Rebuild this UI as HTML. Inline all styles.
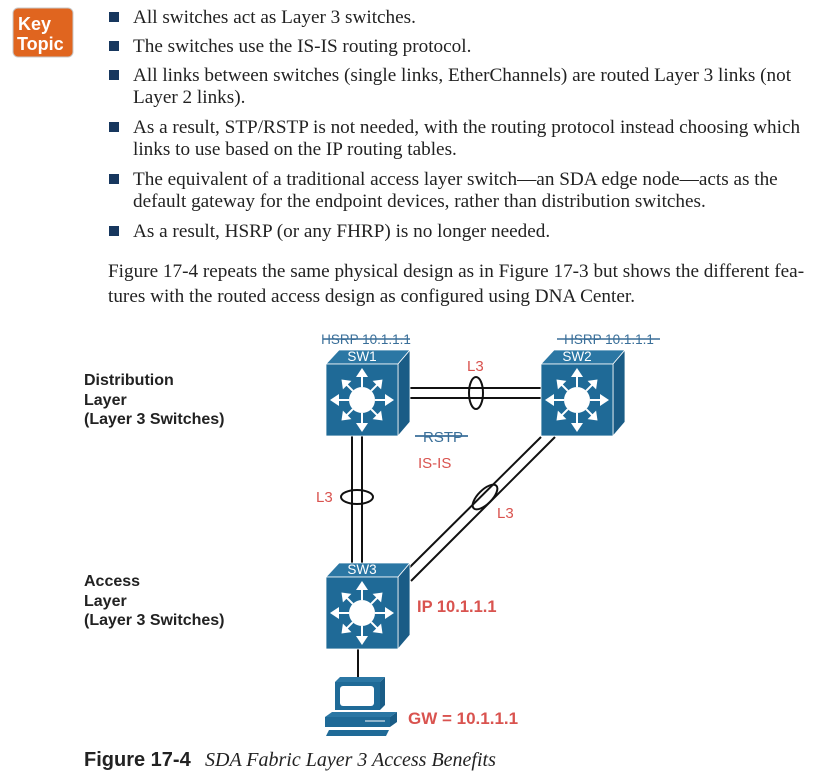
<!DOCTYPE html>
<html><head><meta charset="utf-8"><style>
html,body{margin:0;padding:0;background:#fff;width:836px;height:779px;overflow:hidden}
.s{font-family:"Liberation Serif",serif;font-size:19.2px;fill:#222}
.a{font-family:"Liberation Sans",sans-serif}
</style></head><body>
<svg width="836" height="779" viewBox="0 0 836 779" xmlns="http://www.w3.org/2000/svg">
<defs>
<g id="sw">
<polygon points="0,14 13,0 84,0 72,14" fill="#2b77a4" stroke="#fff" stroke-width="0.8"/>
<polygon points="72,14 84,0 84,72 72,86" fill="#1a5c86" stroke="#fff" stroke-width="0.8"/>
<rect x="0" y="14" width="72" height="72" fill="#1f6a97" stroke="#fff" stroke-width="0.8"/>
<circle cx="36" cy="50" r="13" fill="#fff"/>
<g fill="#fff" stroke="#fff" stroke-width="2">
<line x1="36" y1="37" x2="36" y2="26"/><polygon points="30,27 42,27 36,18" stroke="none"/>
<line x1="36" y1="63" x2="36" y2="74"/><polygon points="30,73 42,73 36,82" stroke="none"/>
<line x1="23" y1="50" x2="12" y2="50"/><polygon points="13,44 13,56 4,50" stroke="none"/>
<line x1="49" y1="50" x2="60" y2="50"/><polygon points="59,44 59,56 68,50" stroke="none"/>
<g transform="rotate(45 36 50)"><line x1="36" y1="37" x2="36" y2="28"/><polygon points="30,29 42,29 36,21" stroke="none"/></g>
<g transform="rotate(135 36 50)"><line x1="36" y1="37" x2="36" y2="28"/><polygon points="30,29 42,29 36,21" stroke="none"/></g>
<g transform="rotate(225 36 50)"><line x1="36" y1="37" x2="36" y2="28"/><polygon points="30,29 42,29 36,21" stroke="none"/></g>
<g transform="rotate(315 36 50)"><line x1="36" y1="37" x2="36" y2="28"/><polygon points="30,29 42,29 36,21" stroke="none"/></g>
</g>
</g>
</defs>
<rect x="13" y="8" width="60" height="49" rx="5" fill="#e0651f" stroke="#c9c9c9" stroke-width="1"/>
<text x="18" y="30" class="a" font-size="18" font-weight="bold" fill="#fff">Key</text>
<text x="17" y="50" class="a" font-size="18" font-weight="bold" fill="#fff">Topic</text>
<g fill="#17375e">
<rect x="109" y="12" width="10" height="10"/><rect x="109" y="41" width="10" height="10"/><rect x="109" y="70" width="10" height="10"/>
<rect x="109" y="122" width="10" height="10"/><rect x="109" y="174" width="10" height="10"/><rect x="109" y="226" width="10" height="10"/>
</g>
<text class="s" x="133" y="23">All switches act as Layer 3 switches.</text>
<text class="s" x="133" y="52">The switches use the IS-IS routing protocol.</text>
<text class="s" x="133" y="81">All links between switches (single links, EtherChannels) are routed Layer 3 links (not</text>
<text class="s" x="133" y="103">Layer 2 links).</text>
<text class="s" x="133" y="133">As a result, STP/RSTP is not needed, with the routing protocol instead choosing which</text>
<text class="s" x="133" y="155">links to use based on the IP routing tables.</text>
<text class="s" x="133" y="185">The equivalent of a traditional access layer switch—an SDA edge node—acts as the</text>
<text class="s" x="133" y="207">default gateway for the endpoint devices, rather than distribution switches.</text>
<text class="s" x="133" y="237">As a result, HSRP (or any FHRP) is no longer needed.</text>
<text class="s" x="108" y="277">Figure 17-4 repeats the same physical design as in Figure 17-3 but shows the different fea-</text>
<text class="s" x="108" y="302">tures with the routed access design as configured using DNA Center.</text>
<g stroke="#111" stroke-width="2" fill="none">
<line x1="410" y1="388" x2="541" y2="388"/><line x1="410" y1="398" x2="541" y2="398"/>
<line x1="352" y1="436" x2="352" y2="577"/><line x1="362" y1="436" x2="362" y2="577"/>
<line x1="541" y1="437" x2="409" y2="568"/><line x1="555" y1="437" x2="411" y2="581"/>
<line x1="358" y1="649" x2="358" y2="677"/>
<ellipse cx="476" cy="393" rx="7" ry="16"/>
<ellipse cx="357" cy="497" rx="16" ry="7"/>
<ellipse cx="485" cy="497" rx="7" ry="16" transform="rotate(45 485 497)"/>
</g>
<use href="#sw" x="326" y="350"/>
<use href="#sw" x="541" y="350"/>
<use href="#sw" x="326" y="563"/>
<g class="a" font-size="13.5" fill="#fff" text-anchor="middle">
<text x="362" y="361">SW1</text><text x="577" y="361">SW2</text><text x="362" y="574">SW3</text>
</g>
<g class="a" font-size="13.5" fill="#3a6f99" text-anchor="middle">
<text x="366" y="344">HSRP 10.1.1.1</text><text x="609" y="344">HSRP 10.1.1.1</text>
</g>
<g stroke="#3a6f99" stroke-width="1.5"><line x1="323" y1="339" x2="410" y2="339"/><line x1="557" y1="339" x2="660" y2="339"/>
<line x1="415" y1="436" x2="468" y2="436"/></g>
<g class="a" font-size="15" fill="#d9534f">
<text x="467" y="371">L3</text><text x="316" y="502">L3</text><text x="497" y="518">L3</text>
<text x="423" y="442" fill="#3a6f99">RSTP</text>
<text x="418" y="468">IS-IS</text>
<text x="417" y="612" font-size="16.5" font-weight="bold">IP 10.1.1.1</text>
<text x="408" y="724" font-size="17" font-weight="bold">GW = 10.1.1.1</text>
</g>
<line x1="415" y1="436" x2="468" y2="436" stroke="#3a6f99" stroke-width="1.5"/>
<g class="a" font-size="16" font-weight="bold" fill="#222">
<text x="84" y="385">Distribution</text><text x="84" y="405">Layer</text><text x="84" y="424">(Layer 3 Switches)</text>
<text x="84" y="586">Access</text><text x="84" y="606">Layer</text><text x="84" y="625">(Layer 3 Switches)</text>
</g>
<g>
<polygon points="335,682 340,677 385,677 380,682" fill="#2b77a4"/>
<polygon points="380,682 385,677 385,705 380,710" fill="#1a5c86"/>
<rect x="335" y="682" width="45" height="28" fill="#1f6a97"/>
<rect x="340" y="686" width="34" height="20" rx="3" fill="#fff"/>
<polygon points="325,717 332,712 397,712 390,717" fill="#2b77a4"/>
<rect x="325" y="717" width="65" height="10" fill="#1f6a97"/>
<polygon points="390,717 397,712 397,722 390,727" fill="#1a5c86"/>
<line x1="365" y1="721" x2="385" y2="721" stroke="#fff" stroke-width="1"/>
<polygon points="329,730 389,730 386,736 326,736" fill="#1f6a97"/>
</g>
<text x="84" y="766" class="a" font-size="20" font-weight="bold" fill="#222">Figure 17-4</text>
<text x="205" y="766" font-family="Liberation Serif,serif" font-style="italic" font-size="20" fill="#222">SDA Fabric Layer 3 Access Benefits</text>
</svg>
</body></html>
